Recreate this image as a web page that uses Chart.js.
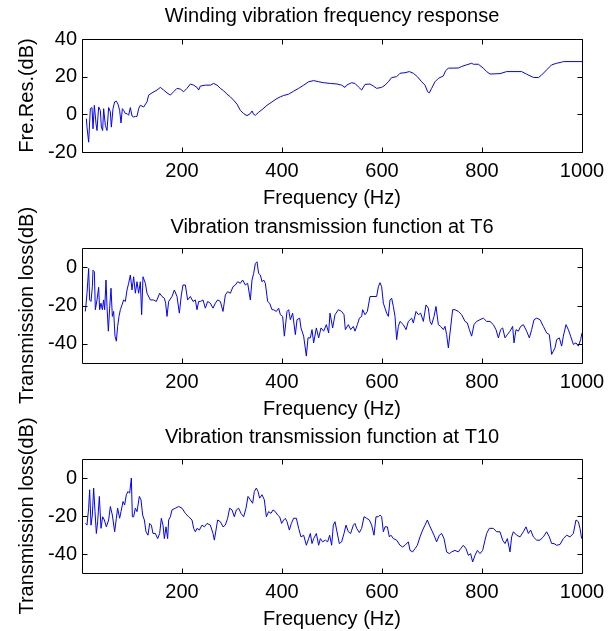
<!DOCTYPE html>
<html><head><meta charset="utf-8">
<script src="https://cdn.jsdelivr.net/npm/chart.js@4/dist/chart.umd.min.js"></script>
<style>
html,body{margin:0;padding:0;background:#fff;}
#wrap{position:relative;width:614px;height:631px;background:#fff;}
canvas{position:absolute;left:0;top:0;}
</style></head><body>
<div id="wrap">
<canvas id="c1" width="614" height="631"></canvas>
<canvas id="c2" width="614" height="631"></canvas>
<canvas id="c3" width="614" height="631"></canvas>
</div>
<script>
const plotTitles = ['Winding vibration frequency response','Vibration transmission function at T6','Vibration transmission function at T10'];
const yAxisLabels = ['Fre.Res.(dB)','Transmission loss(dB)','Transmission loss(dB)'];
const xAxisLabel = 'Frequency (Hz)';
const xTicks = [200,400,600,800,1000];
const yTicksTop = [-20,0,20,40];
const yTicksLoss = [-40,-20,0];

const freq1 = [8.7,10,13.3,16.7,20,22,24.7,28,30,33.3,36.7,38.7,41.3,43.3,46.7,50,53.3,56.7,58.7,62,65.3,68.7,72,75.3,78,80.7,83.3,86.7,90,93.3,96.7,100,103.3,106.7,110,113.3,116.7,123.3,130,133.3,140,150,156.7,163.3,170,176.7,183.3,190,196.7,203.3,210,216.7,223.3,230,233.3,236.7,246.7,256.7,263.3,270,276.7,283.3,290,296.7,303.3,310,316.7,323.3,330,336.7,340,343.3,346.7,353.3,360,370,380,390,396.7,403.3,413.3,423.3,433.3,443.3,453.3,463.3,473.3,483.3,496.7,510,519.3,526,529.3,539.3,546,552.7,559.3,566,576,582.7,589.3,599.3,606,612.7,619.3,629.3,636,646,654.7,662.7,670.7,679.3,686,691.3,694.7,699.3,706,712.7,722.7,727.3,732.7,752.7,759.3,769.3,779.3,782.7,792.7,802.7,809.3,816,836,849.3,879.3,889.3,902.7,912.7,919.3,929.3,939.3,949.3,959.3,962.7,1000];
const response = [-2.3,-6.8,-14.8,3.0,3.6,-7.7,4.8,-5.0,-8.6,3.9,2.1,-6.8,-8.6,3.0,-5.9,-8.6,3.6,1.3,-6.8,3.0,6.6,7.0,5.4,2.1,-4.6,3.0,2.1,0.4,0.4,-0.5,3.6,-0.9,-1.4,-1.1,-1.1,3.0,4.8,3.9,6.6,10.2,11.4,12.9,14.3,12.9,11.4,10.2,12.0,13.8,13.4,12.0,13.8,16.1,15.5,14.3,12.9,15.0,15.5,15.5,16.4,15.5,13.8,12.5,10.7,9.3,7.5,5.4,2.1,0.4,-0.7,0.4,1.8,0,-0.5,1.1,2.5,4.8,6.6,8.4,9.3,10.0,10.7,12.3,13.8,15.5,17.3,17.9,17.3,16.8,16.4,16.1,15.5,14.3,15.5,16.8,16.4,14.6,12.9,15.9,16.1,15.0,13.8,14.3,15.5,17.3,19.5,20.0,21.8,22.1,22.7,21.8,20.0,17.3,15.5,12.0,11.4,13.8,17.3,19.1,20.4,23.2,24.5,24.6,25.4,26.3,27.1,26.6,26.6,24.5,22.7,21.4,21.6,22.7,22.7,21.3,19.6,19.5,20.9,23.6,26.3,27.1,27.7,28.0,28.0];

const freq2 = [6.7,10,13.3,15.3,18,20.7,22,24.7,26.7,30,33.3,35.3,38,40.7,43.3,45.3,48,50,52.7,55.3,58,60.7,63.3,66,68.7,71.3,74,76.7,80,83.3,86.7,90,93.3,96.7,100,103.3,106.7,110,113.3,116.7,119.3,122,126.7,130,136.7,143.3,148.7,155.3,160,164.7,167.3,170,173.3,180,184.7,190,194.7,198.7,202,206.7,211.3,216.7,222,226.7,230,233.3,236.7,242,246.7,251.3,256.7,262,266.7,271.3,276.7,282,286.7,291.3,296.7,302,306.7,311.3,316.7,321.3,326.7,331.3,336.7,340,343.3,346.7,350,353.3,356.7,360,363.3,366.7,371.3,375.3,380,383.3,388.7,393.3,396.7,401.3,404.7,410,413.3,416.7,421.3,426.7,430,435.3,438,443.3,448.7,452,456.7,460,463.3,468.7,473.3,478,483.3,488.7,493.3,496,501.3,506,512.7,519.3,524,526.7,532.7,537.3,542.7,546,550.7,554.7,559.3,561.3,566,570.7,576,589.3,592.7,596,599.3,602.7,606,609.3,612.7,616,619.3,622.7,626,629.3,632.7,636,642.7,648,652.7,659.3,662.7,668,672.7,677.3,682.7,688,692.7,696,699.3,704,708,712.7,717.3,722.7,726,729.3,732.7,736,741.3,746,752.7,759.3,766,770.7,774.7,779.3,784,789.3,796,802.7,809.3,816,822.7,828,832.7,837.3,841.3,846,850.7,856,861.3,864,868,872.7,877.3,882.7,889.3,894.7,899.3,904,909.3,916,922.7,929.3,934.7,939.3,942.7,946,949.3,954.7,959.3,962.7,968,972.7,977.3,982.7,988,992.7,997.3,1000];
const lossT6 = [-23.1,-13.6,-0.7,-17.1,-17.9,-10.2,-1.6,-2.4,-22.2,-17.1,-10.5,-22.2,-18.8,-22.2,-17.1,-22.2,-6.7,-20.5,-33.4,-21.4,-11.0,-25.7,-23.1,-36.0,-38.6,-30.9,-25.7,-22.2,-19.7,-17.1,-17.9,-11.9,-8.4,-4.1,-11.9,-5.0,-13.6,-7.6,-13.6,-7.6,-24.8,-5.0,-8.4,-13.6,-17.1,-17.1,-17.9,-13.6,-15.3,-16.2,-18.8,-25.7,-17.9,-15.3,-11.9,-15.3,-24.0,-14.5,-9.3,-9.3,-17.1,-15.3,-17.9,-17.1,-22.2,-17.9,-17.9,-17.1,-21.4,-17.9,-18.8,-21.4,-18.8,-17.1,-17.9,-23.1,-14.5,-12.8,-13.6,-10.2,-9.3,-7.6,-8.4,-6.7,-9.3,-8.4,-17.1,-6.7,-3.3,1.9,2.8,-3.3,-4.1,-7.6,-6.7,-8.4,-17.9,-18.8,-22.2,-22.2,-23.1,-21.4,-24.8,-25.7,-36.0,-23.1,-22.2,-27.4,-24.0,-35.2,-27.4,-26.6,-31.7,-36.0,-46.4,-36.9,-36.9,-32.6,-39.5,-31.7,-36.9,-31.7,-33.4,-30.0,-34.3,-24.0,-31.7,-24.8,-22.2,-23.1,-24.8,-32.6,-30.0,-32.6,-30.9,-33.4,-30.0,-26.6,-25.7,-22.2,-24.8,-23.1,-15.3,-15.3,-10.2,-8.1,-10.2,-18.8,-21.4,-24.0,-25.7,-17.1,-16.2,-20.5,-25.7,-37.8,-30.9,-28.3,-30.0,-32.6,-28.3,-26.6,-29.1,-23.1,-24.8,-24.0,-28.3,-19.7,-21.4,-28.3,-30.0,-25.7,-20.5,-30.0,-30.9,-32.6,-30.9,-35.2,-42.1,-34.3,-22.2,-22.2,-23.1,-24.8,-28.3,-29.1,-32.6,-36.0,-30.0,-28.3,-27.4,-26.6,-28.3,-28.3,-30.0,-32.6,-36.9,-32.6,-31.7,-36.9,-35.2,-33.4,-30.9,-39.5,-32.6,-33.4,-30.9,-30.0,-33.4,-36.9,-32.6,-27.4,-26.6,-27.4,-30.9,-34.3,-35.2,-45.5,-43.8,-42.1,-37.8,-36.9,-41.2,-36.0,-30.0,-32.6,-36.0,-40.3,-39.5,-41.2,-37.8,-34.3];

const freq3 = [6.7,10,13.3,15.3,18,20.7,23.3,26,28.7,31.3,34.7,38,41.3,44.7,48.7,53.3,56.7,60.7,65.3,68.7,71.3,75.3,78,82,85.3,88.7,92,95.3,98.7,100.7,103.3,106.7,110,114.7,118,121.3,124.7,128,132,135.3,138.7,142,146.7,151.3,155.3,158.7,162,164.7,168,171.3,173.3,176.7,180,186.7,193.3,200,206.7,213.3,220,223.3,226.7,230,234.7,240,244.7,250,256.7,262,264.7,268,271.3,276.7,282,286.7,291.3,295.3,300,304.7,308.7,313.3,318,323.3,328,332,336.7,341.3,344.7,348.7,352,355.3,360,364.7,368.7,373.3,378,382,386.7,391.3,395.3,399.3,403.3,406.7,410,414.7,418.7,423.3,428.7,433.3,438,443.3,448.7,453.3,456.7,460,463.3,468.7,473.3,476.7,481.3,486.7,491.3,495.3,499.3,502.7,506,509.3,514.7,519.3,524,528,532.7,537.3,542.7,546,549.3,554.7,559.3,564,569.3,574.7,579.3,584,588,592.7,596,599.3,602.7,606,610.7,614.7,618,622.7,629.3,636,641.3,646,652.7,656,661.3,666,670.7,676,681.3,686,690.7,694.7,699.3,704,709.3,714.7,719.3,724,729.3,734.7,739.3,746,752.7,757.3,762.7,768,772.7,777.3,781.3,786,790.7,796,801.3,806,809.3,814.7,822.7,829.3,836,841.3,846,850.7,856,859.3,862.7,869.3,876,882.7,888,892.7,897.3,902.7,909.3,916,922.7,929.3,934.7,939.3,944,949.3,956,962.7,969.3,976,982.7,988,992.7,996,999.3];
const lossT10 = [-23.9,-24.8,-15.9,-6.2,-24.8,-19.5,-5.3,-17.7,-29.2,-23.0,-9.7,-26.5,-20.4,-22.1,-25.7,-22.1,-15.0,-19.5,-28.3,-21.2,-15.9,-21.2,-17.7,-12.4,-14.2,-8.8,-7.1,-8.0,0,-20.4,-20.4,-15.9,-17.7,-9.7,-11.5,-19.5,-22.1,-28.3,-30.1,-23.9,-24.8,-29.2,-29.2,-31.9,-29.2,-21.2,-24.8,-31.9,-25.7,-31.9,-22.1,-20.4,-16.8,-15.9,-15.0,-15.9,-18.6,-20.4,-22.1,-26.5,-28.3,-26.5,-27.4,-24.8,-25.7,-23.9,-24.8,-29.2,-32.7,-27.4,-22.1,-23.0,-25.7,-24.8,-21.2,-15.9,-16.8,-20.4,-16.8,-15.9,-18.6,-20.4,-15.9,-9.7,-11.5,-13.3,-7.1,-5.3,-7.1,-10.6,-8.8,-11.5,-20.4,-17.7,-18.6,-16.8,-17.7,-19.5,-20.4,-23.9,-22.1,-21.2,-23.0,-27.4,-23.9,-21.2,-21.2,-26.5,-31.0,-30.1,-35.4,-31.9,-29.2,-34.5,-31.9,-29.2,-35.4,-31.9,-33.6,-32.7,-33.6,-30.1,-35.4,-24.8,-23.0,-27.4,-34.5,-33.6,-29.2,-24.8,-28.3,-29.2,-24.8,-23.9,-26.5,-28.7,-26.5,-20.4,-21.2,-22.1,-24.8,-30.1,-20.4,-20.4,-19.5,-20.4,-28.3,-25.7,-25.7,-31.0,-30.1,-31.9,-32.7,-35.4,-36.3,-35.4,-33.6,-38.1,-38.9,-37.2,-35.4,-31.0,-27.4,-24.8,-22.1,-24.8,-27.4,-30.1,-33.6,-30.1,-29.2,-31.9,-38.9,-39.8,-38.9,-38.1,-38.9,-37.2,-35.4,-37.2,-40.7,-39.8,-44.2,-40.7,-38.1,-39.8,-38.1,-32.7,-29.2,-26.5,-26.5,-28.3,-28.3,-32.7,-34.5,-31.9,-38.9,-31.0,-28.3,-30.1,-31.0,-28.3,-25.7,-29.2,-27.4,-31.0,-32.7,-32.7,-31.0,-28.3,-31.0,-34.5,-34.5,-35.4,-35.0,-31.9,-30.1,-31.0,-29.2,-22.1,-23.0,-26.5,-31.9];

Chart.defaults.font.family = '"Liberation Sans", Arial, sans-serif';
Chart.defaults.color = '#000';
const FONT = {family:'"Liberation Sans", Arial, sans-serif', size:20, weight:'normal'};

const boxPlugin = {
  id:'matlabBox',
  afterDatasetsDraw(chart){
    const {ctx, chartArea:a, scales:{x,y}} = chart;
    const L = Math.round(a.left)+0.5, R = Math.round(a.right)+0.5, T = Math.round(a.top)+0.5, B = Math.round(a.bottom)+0.5;
    ctx.save();
    ctx.strokeStyle = '#000'; ctx.lineWidth = 1;
    ctx.beginPath();
    ctx.rect(L, T, R-L, B-T);
    const tl = 5;
    x.ticks.forEach(t => {
      const px = Math.round(x.getPixelForValue(t.value))+0.5;
      ctx.moveTo(px, B); ctx.lineTo(px, B-tl);
      ctx.moveTo(px, T); ctx.lineTo(px, T+tl);
    });
    y.ticks.forEach(t => {
      const py = Math.round(y.getPixelForValue(t.value))+0.5;
      ctx.moveTo(L, py); ctx.lineTo(L+tl, py);
      ctx.moveTo(R, py); ctx.lineTo(R-tl, py);
    });
    ctx.stroke();
    ctx.restore();
  }
};

function makeChart(id, idx, freq, vals, yTicks, yMin, yMax, padTop, padBottom, titleBottom){
  new Chart(document.getElementById(id), {
    type:'line',
    data:{datasets:[{data:freq.map((f,i)=>({x:f,y:vals[i]})), borderColor:'#0000ff', borderWidth:1, pointRadius:0, tension:0, fill:false}]},
    options:{
      responsive:false, animation:false, events:[],
      layout:{padding:{top:padTop,bottom:padBottom,left:0,right:32}},
      plugins:{
        legend:{display:false}, tooltip:{enabled:false},
        title:{display:true, fullSize:false, text:plotTitles[idx], font:FONT, color:'#000', padding:{top:4,bottom:titleBottom}}
      },
      scales:{
        x:{type:'linear', min:0, max:1000,
          afterBuildTicks:s=>{s.ticks = xTicks.map(v=>({value:v}));},
          afterFit:s=>{s.height = 58;},
          grid:{display:false, drawTicks:false}, border:{display:false},
          ticks:{font:FONT, color:'#000', padding:7, maxRotation:0, autoSkip:false, callback:v=>String(v)},
          title:{display:true, text:xAxisLabel, font:FONT, color:'#000', padding:{top:0,bottom:0}}
        },
        y:{type:'linear', min:yMin, max:yMax,
          afterBuildTicks:s=>{s.ticks = yTicks.map(v=>({value:v}));},
          afterFit:s=>{s.width = 82;},
          grid:{display:false, drawTicks:false}, border:{display:false},
          ticks:{font:FONT, color:'#000', padding:5, callback:v=>String(v)},
          title:{display:true, text:yAxisLabels[idx], font:FONT, color:'#000', padding:{top:15,bottom:0}}
        }
      }
    },
    plugins:[boxPlugin]
  });
}

makeChart('c1', 0, freq1, response, yTicksTop, -20, 40, 0, 421, 11);
makeChart('c2', 1, freq2, lossT6, yTicksLoss, -50, 10, 211, 210, 9);
makeChart('c3', 2, freq3, lossT10, yTicksLoss, -50, 10, 421, 0, 10);
</script>
</body></html>
